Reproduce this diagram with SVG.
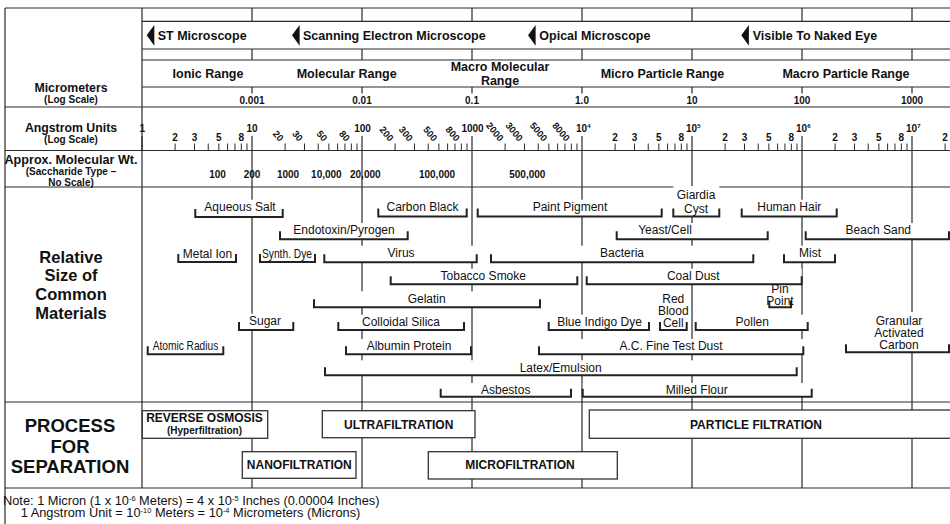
<svg xmlns="http://www.w3.org/2000/svg" xmlns:xlink="http://www.w3.org/1999/xlink" width="950" height="524" viewBox="0 0 950 524">
<style>
text{font-family:"Liberation Sans",Arial,Helvetica,sans-serif;fill:#111}
.b{font-weight:bold}
.c{text-anchor:middle}
.ln{stroke:#2a2a2a;stroke-width:1.2;fill:none}
.tk{stroke:#2a2a2a;stroke-width:1;fill:none}
.br{fill:none;stroke:#222;stroke-width:2}
.mk{fill:#fff}
.box{fill:#fff;stroke:#333;stroke-width:1.3}
.m{font-size:12px;text-anchor:middle}
.sc{font-size:12.5px;font-weight:bold}
.rg{font-size:12.5px;font-weight:bold;text-anchor:middle}
.um{font-size:10px;font-weight:bold;text-anchor:middle}
.au{font-size:10px;font-weight:bold}
.rot{font-size:9.5px;font-weight:bold;text-anchor:end}
.pr{font-size:12px;font-weight:bold;text-anchor:middle}
.nt{font-size:12.8px}
.sup{font-size:7.5px}
</style>
<defs>
<path id="dec" class="tk" d="M33.11,143.5V150.5M52.48,143.5V150.5M66.23,143.5V150.5M76.89,143.5V150.5M85.6,143.5V150.5M92.96,143.5V150.5M99.34,143.5V150.5M104.97,143.5V150.5"/>
<polygon id="arr" points="0,10.3 7.6,0 7.6,20.7" fill="#111"/>
</defs>

<g id="grid">
<path class="ln" d="M5,8H950" stroke-width="2"/>
<path class="ln" d="M142,21.3H950M142,49H950M142,60H950M142,87H950M5,107H950M5,150.5H950M5,187H950M5,402H950M5,488H950"/>
<path class="ln" d="M5,8V524M142,8V488"/>
<path class="ln" d="M252,8V21.3M362,8V21.3M472,8V21.3M582,8V21.3M692,8V21.3M802,8V21.3M912,8V21.3"/>
<path class="ln" d="M252,49V60M362,49V60M472,49V60M582,49V60M692,49V60M802,49V60M912,49V60"/>
<path class="ln" d="M252,87V93.5M362,87V93.5M472,87V93.5M582,87V93.5M692,87V93.5M802,87V93.5M912,87V93.5"/>
<path class="ln" d="M142,136V150M252,136V488M362,136V488M472,136V488M582,136V488M692,136V488M802,136V488M912,136V488"/>
<use xlink:href="#dec" href="#dec" x="142"/>
<use xlink:href="#dec" href="#dec" x="252"/>
<use xlink:href="#dec" href="#dec" x="362"/>
<use xlink:href="#dec" href="#dec" x="472"/>
<use xlink:href="#dec" href="#dec" x="582"/>
<use xlink:href="#dec" href="#dec" x="692"/>
<use xlink:href="#dec" href="#dec" x="802"/>
<use xlink:href="#dec" href="#dec" x="912"/>
</g>

<g id="row-labels">
<text class="b c" x="71" y="91.5" font-size="12.3">Micrometers</text>
<text class="b c" x="71" y="103" font-size="10">(Log Scale)</text>
<text class="b c" x="71" y="132" font-size="12.3">Angstrom Units</text>
<text class="b c" x="71" y="142.5" font-size="10">(Log Scale)</text>
<text class="b c" x="71" y="163.5" font-size="12.6">Approx. Molecular Wt.</text>
<text class="b c" x="71" y="174.5" font-size="10">(Saccharide Type –</text>
<text class="b c" x="71" y="186" font-size="10">No Scale)</text>
<text class="b c" x="71" y="262.7" font-size="16.5">Relative</text>
<text class="b c" x="71" y="281" font-size="16.5">Size of</text>
<text class="b c" x="71" y="300" font-size="16.5">Common</text>
<text class="b c" x="71" y="318.7" font-size="16.5">Materials</text>
<text class="b c" x="70" y="432.4" font-size="18.5">PROCESS</text>
<text class="b c" x="70" y="453.4" font-size="18.5">FOR</text>
<text class="b c" x="70" y="473.4" font-size="18.5">SEPARATION</text>
</g>

<g id="microscopes">
<use xlink:href="#arr" href="#arr" x="146.7" y="25"/>
<text class="sc" x="157.7" y="39.5">ST Microscope</text>
<use xlink:href="#arr" href="#arr" x="292" y="25"/>
<text class="sc" x="303" y="39.5">Scanning Electron Microscope</text>
<use xlink:href="#arr" href="#arr" x="528" y="25"/>
<text class="sc" x="539.3" y="39.5">Opical Microscope</text>
<use xlink:href="#arr" href="#arr" x="741.3" y="25"/>
<text class="sc" x="752.7" y="39.5">Visible To Naked Eye</text>
</g>

<g id="ranges">
<text class="rg" x="208" y="77.5">Ionic Range</text>
<text class="rg" x="346.7" y="77.5">Molecular Range</text>
<text class="rg" x="500" y="70.5">Macro Molecular</text>
<text class="rg" x="500" y="84.5">Range</text>
<text class="rg" x="662.5" y="77.5">Micro Particle Range</text>
<text class="rg" x="846" y="77.5">Macro Particle Range</text>
</g>

<g id="micrometer-scale">
<text class="um" x="252" y="103.6">0.001</text>
<text class="um" x="362" y="103.6">0.01</text>
<text class="um" x="472" y="103.6">0.1</text>
<text class="um" x="582" y="103.6">1.0</text>
<text class="um" x="692" y="103.6">10</text>
<text class="um" x="802" y="103.6">100</text>
<text class="um" x="912" y="103.6">1000</text>
</g>

<g id="angstrom-scale">
<text class="au" x="142.3" y="131.5" text-anchor="middle">1</text>
<text class="au" x="252" y="131.5" text-anchor="middle">10</text>
<text class="au" x="362.5" y="131.5" text-anchor="middle">100</text>
<text class="au" x="472.5" y="131.5" text-anchor="middle">1000</text>
<text class="au" x="576" y="131.5">10<tspan font-size="6" baseline-shift="4">4</tspan></text>
<text class="au" x="686" y="131.5">10<tspan font-size="6" baseline-shift="4">5</tspan></text>
<text class="au" x="796" y="131.5">10<tspan font-size="6" baseline-shift="4">6</tspan></text>
<text class="au" x="906" y="131.5">10<tspan font-size="6" baseline-shift="4">7</tspan></text>
<g text-anchor="middle">
<text class="au" x="175.1" y="140.5">2</text><text class="au" x="194.5" y="140.5">3</text><text class="au" x="218.9" y="140.5">5</text><text class="au" x="241.3" y="140.5">8</text>
<text class="au" x="615.1" y="140.5">2</text><text class="au" x="634.5" y="140.5">3</text><text class="au" x="658.9" y="140.5">5</text><text class="au" x="681.3" y="140.5">8</text>
<text class="au" x="725.1" y="140.5">2</text><text class="au" x="744.5" y="140.5">3</text><text class="au" x="768.9" y="140.5">5</text><text class="au" x="791.3" y="140.5">8</text>
<text class="au" x="835.1" y="140.5">2</text><text class="au" x="854.5" y="140.5">3</text><text class="au" x="878.9" y="140.5">5</text><text class="au" x="901.3" y="140.5">8</text>
<text class="au" x="945.1" y="140.5">2</text>
</g>
<text class="rot" transform="translate(279.1,142) rotate(50)">20</text>
<text class="rot" transform="translate(298.5,142) rotate(50)">30</text>
<text class="rot" transform="translate(322.9,142) rotate(50)">50</text>
<text class="rot" transform="translate(345.3,142) rotate(50)">80</text>
<text class="rot" transform="translate(389.1,142) rotate(50)">200</text>
<text class="rot" transform="translate(408.5,142) rotate(50)">300</text>
<text class="rot" transform="translate(432.9,142) rotate(50)">500</text>
<text class="rot" transform="translate(455.3,142) rotate(50)">800</text>
<text class="rot" transform="translate(499.1,142) rotate(50)">2000</text>
<text class="rot" transform="translate(518.5,142) rotate(50)">3000</text>
<text class="rot" transform="translate(542.9,142) rotate(50)">5000</text>
<text class="rot" transform="translate(565.3,142) rotate(50)">8000</text>
</g>

<g id="molecular-weight">
<text class="um" x="217.5" y="177.6">100</text>
<text class="um" x="252" y="177.6">200</text>
<text class="um" x="288" y="177.6">1000</text>
<text class="um" x="326.4" y="177.6">10,000</text>
<text class="um" x="365.3" y="177.6">20,000</text>
<text class="um" x="437" y="177.6">100,000</text>
<text class="um" x="527.3" y="177.6">500,000</text>
</g>

<g id="materials">
<g id="aqueous-salt"><rect class="mk" x="195.3" y="199.7" width="87.4" height="17.3"/><path class="br" d="M195.3,209V217H282.7V209"/><text class="m" x="240" y="211">Aqueous Salt</text></g>
<g id="carbon-black"><rect class="mk" x="378.3" y="199.7" width="88.4" height="16.8"/><path class="br" d="M378.3,208.5V216.5H466.7V208.5"/><text class="m" x="422.5" y="211">Carbon Black</text></g>
<g id="paint-pigment"><rect class="mk" x="477.7" y="199.7" width="184" height="16.8"/><path class="br" d="M477.7,208.5V216.5H661.7V208.5"/><text class="m" x="570" y="211">Paint Pigment</text></g>
<g id="giardia-cyst"><rect class="mk" x="673.3" y="186" width="46" height="30.5"/><path class="br" d="M673.3,208.5V216.5H719.3V208.5"/><text class="m" x="696" y="198.6">Giardia</text><text class="m" x="696" y="212.6">Cyst</text></g>
<g id="human-hair"><rect class="mk" x="741.7" y="199.7" width="95" height="16.8"/><path class="br" d="M741.7,208.5V216.5H836.7V208.5"/><text class="m" x="789.3" y="211">Human Hair</text></g>
<g id="endotoxin"><rect class="mk" x="280" y="223" width="127.7" height="16.3"/><path class="br" d="M280,231.3V239.3H407.7V231.3"/><text class="m" x="344" y="234.3">Endotoxin/Pyrogen</text></g>
<g id="yeast-cell"><rect class="mk" x="616.7" y="223" width="151" height="16.3"/><path class="br" d="M616.7,231.3V239.3H767.7V231.3"/><text class="m" x="665" y="234.3">Yeast/Cell</text></g>
<g id="beach-sand"><rect class="mk" x="805.7" y="223" width="143.3" height="16.3"/><path class="br" d="M805.7,231.3V239.3H949V231.3"/><text class="m" x="878.3" y="234.3">Beach Sand</text></g>
<g id="metal-ion"><rect class="mk" x="178.3" y="246.3" width="57.7" height="15.7"/><path class="br" d="M178.3,254V262H236V254"/><text class="m" x="207.5" y="257.6">Metal Ion</text></g>
<g id="synth-dye"><rect class="mk" x="260" y="246.3" width="55" height="15.7"/><path class="br" d="M260,254V262H315V254"/><text class="m" x="287" y="257.6" font-size="11" textLength="50" lengthAdjust="spacingAndGlyphs">Synth. Dye</text></g>
<g id="virus"><rect class="mk" x="324.3" y="245.7" width="152.4" height="16.6"/><path class="br" d="M324.3,254.3V262.3H476.7V254.3"/><text class="m" x="401" y="257">Virus</text></g>
<g id="bacteria"><rect class="mk" x="491" y="245.7" width="262.3" height="16.6"/><path class="br" d="M491,254.3V262.3H753.3V254.3"/><text class="m" x="622" y="257">Bacteria</text></g>
<g id="mist"><rect class="mk" x="784" y="245.7" width="51" height="16.6"/><path class="br" d="M784,254.3V262.3H835V254.3"/><text class="m" x="810" y="257">Mist</text></g>
<g id="tobacco-smoke"><rect class="mk" x="390.7" y="268.7" width="186.6" height="15.6"/><path class="br" d="M390.7,276.3V284.3H577.3V276.3"/><text class="m" x="483.3" y="280">Tobacco Smoke</text></g>
<g id="coal-dust"><rect class="mk" x="586.7" y="268.7" width="215" height="15.6"/><path class="br" d="M586.7,276.3V284.3H801.7V276.3"/><text class="m" x="693.3" y="280">Coal Dust</text></g>
<g id="gelatin"><rect class="mk" x="314" y="291.3" width="226" height="16"/><path class="br" d="M314,299.3V307.3H540V299.3"/><text class="m" x="426.7" y="302.6">Gelatin</text></g>
<g id="pin-point"><rect class="mk" x="769.3" y="287" width="21.7" height="20.3"/><path class="br" d="M769.3,300.5V307.3H791V300.5"/><text class="m" x="780" y="292.6" font-size="6">Pin</text><text class="m" x="780" y="305" font-size="6.3">Point</text></g>
<g id="sugar"><rect class="mk" x="239" y="313.7" width="54.3" height="16.3"/><path class="br" d="M239,322V330H293.3V322"/><text class="m" x="265" y="325">Sugar</text></g>
<g id="colloidal-silica"><rect class="mk" x="338.3" y="314.7" width="125.7" height="15.3"/><path class="br" d="M338.3,322V330H464V322"/><text class="m" x="401" y="326">Colloidal Silica</text></g>
<g id="blue-indigo-dye"><rect class="mk" x="548.7" y="314.7" width="100.3" height="15.3"/><path class="br" d="M548.7,322V330H649V322"/><text class="m" x="599.5" y="326">Blue Indigo Dye</text></g>
<g id="red-blood-cell"><rect class="mk" x="660" y="292" width="26.7" height="38"/><path class="br" d="M660,322V330H686.7V322"/><text class="m" x="673.3" y="303.3">Red</text><text class="m" x="673.3" y="315.3">Blood</text><text class="m" x="673.3" y="327">Cell</text></g>
<g id="pollen"><rect class="mk" x="695.7" y="314.7" width="112" height="15.3"/><path class="br" d="M695.7,322V330H807.7V322"/><text class="m" x="752.3" y="326">Pollen</text></g>
<g id="atomic-radius"><rect class="mk" x="147.7" y="339" width="75.6" height="15.3"/><path class="br" d="M147.7,346.3V354.3H223.3V346.3"/><text class="m" x="185.5" y="350.3" font-size="11" textLength="65.6" lengthAdjust="spacingAndGlyphs">Atomic Radius</text></g>
<g id="albumin-protein"><rect class="mk" x="346" y="339" width="125" height="15.3"/><path class="br" d="M346,346.3V354.3H471V346.3"/><text class="m" x="409" y="350.3">Albumin Protein</text></g>
<g id="ac-fine-test-dust"><rect class="mk" x="539" y="339" width="264.3" height="15.3"/><path class="br" d="M539,346.3V354.3H803.3V346.3"/><text class="m" x="671" y="350.3">A.C. Fine Test Dust</text></g>
<g id="granular-activated-carbon"><rect class="mk" x="846" y="312" width="103" height="40.3"/><path class="br" d="M846,344.3V352.3H949V344.3"/><text class="m" x="899" y="325">Granular</text><text class="m" x="899" y="337">Activated</text><text class="m" x="899" y="349.3">Carbon</text></g>
<g id="latex-emulsion"><rect class="mk" x="325" y="360.3" width="471.7" height="15"/><path class="br" d="M325,367.3V375.3H796.7V367.3"/><text class="m" x="560.7" y="371.6">Latex/Emulsion</text></g>
<g id="asbestos"><rect class="mk" x="440.7" y="383" width="130.3" height="13.7"/><path class="br" d="M440.7,388.7V396.7H571V388.7"/><text class="m" x="505.7" y="394.3">Asbestos</text></g>
<g id="milled-flour"><rect class="mk" x="582.7" y="383" width="229" height="13.7"/><path class="br" d="M582.7,388.7V396.7H811.7V388.7"/><text class="m" x="696.7" y="394.3">Milled Flour</text></g>
</g>

<g id="processes">
<g id="reverse-osmosis"><rect class="box" x="142.3" y="410.7" width="125.4" height="27.6"/><text class="pr" x="204.5" y="422">REVERSE OSMOSIS</text><text class="b c" x="204.5" y="433.5" font-size="10">(Hyperfiltration)</text></g>
<g id="ultrafiltration"><rect class="box" x="322.3" y="410.7" width="152.7" height="27"/><text class="pr" x="398.7" y="428.6">ULTRAFILTRATION</text></g>
<g id="nanofiltration"><rect class="box" x="242.3" y="451.7" width="113.7" height="26.6"/><text class="pr" x="299.3" y="469.3">NANOFILTRATION</text></g>
<g id="microfiltration"><rect class="box" x="428.3" y="451.7" width="189" height="27.3"/><text class="pr" x="520" y="469.3">MICROFILTRATION</text></g>
<g id="particle-filtration"><rect class="box" x="589.3" y="410" width="370" height="28.3"/><text class="pr" x="756" y="428.6">PARTICLE FILTRATION</text></g>
</g>

<g id="notes">
<text class="nt" x="3" y="504.8">Note: 1 Micron (1 x 10<tspan class="sup" baseline-shift="4.5">-6</tspan> Meters) = 4 x 10<tspan class="sup" baseline-shift="4.5">-5</tspan> Inches (0.00004 Inches)</text>
<text class="nt" x="20.7" y="517">1 Angstrom Unit = 10<tspan class="sup" baseline-shift="4.5">-10</tspan> Meters = 10<tspan class="sup" baseline-shift="4.5">-4</tspan> Micrometers (Microns)</text>
</g>
</svg>
